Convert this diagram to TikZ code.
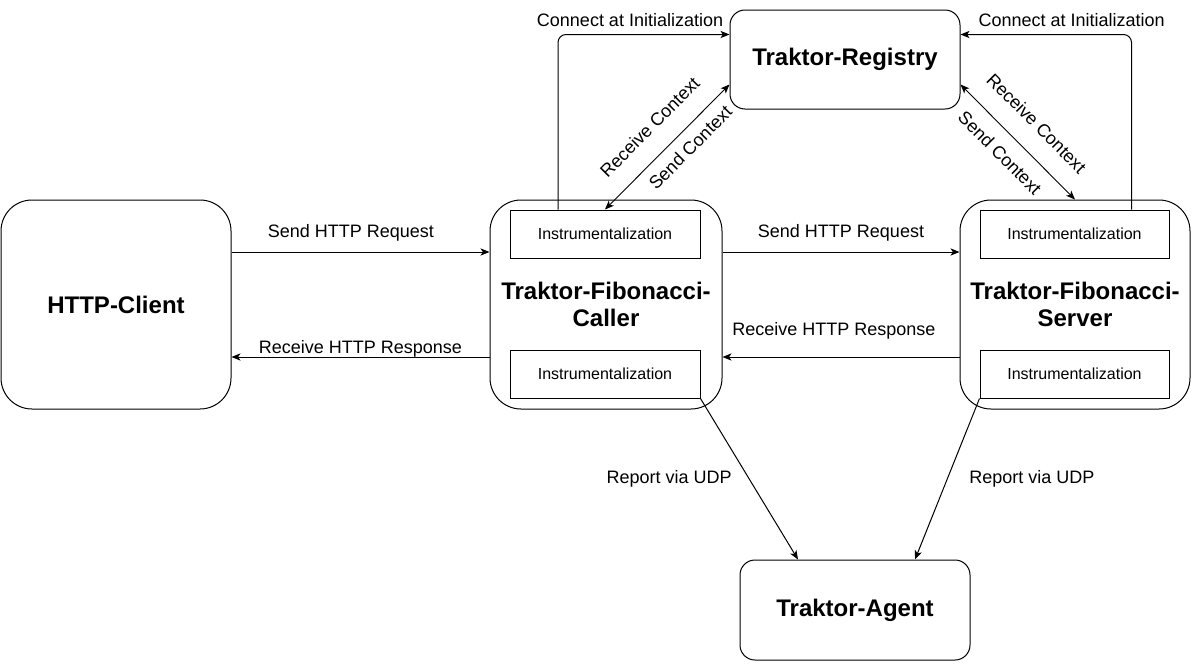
\documentclass[tikz,border=0pt]{standalone}
\usepackage{fontspec}
\setmainfont{Liberation Sans}
\usetikzlibrary{arrows.meta}
\tikzset{
  box/.style={draw, line width=0.5pt, rounded corners=15.5pt, minimum width=115pt, minimum height=104.5pt, align=center, font=\fontsize{12}{13.5}\selectfont\bfseries, inner sep=0pt},
  smallbox/.style={draw, line width=0.5pt, rounded corners=7.5pt, minimum width=115pt, minimum height=50pt, font=\fontsize{12}{13.5}\selectfont\bfseries, inner sep=0pt},
  instr/.style={draw, line width=0.5pt, minimum width=95pt, minimum height=24pt, font=\fontsize{8}{10}\selectfont, inner sep=0pt},
  tip/.tip={Stealth[length=4.5pt,width=3.6pt,inset=1.2pt]},
  arr/.style={-tip, line width=0.5pt},
  dbl/.style={tip-tip, line width=0.45pt},
  lbl/.style={font=\fontsize{9}{11}\selectfont, inner sep=0pt},
}
\begin{document}
\begin{tikzpicture}[x=0.5pt,y=-0.5pt]
\useasboundingbox (0,0) rectangle (1191,670);
% main nodes
\node[box] (client) at (116,304.5) {HTTP-Client};
\node[box, minimum width=116pt] (caller) at (606,304.5) {Traktor-Fibonacci-\\Caller};
\node[box] (server) at (1075,304.5) {Traktor-Fibonacci-\\Server};
\node[smallbox, minimum height=49.5pt] (registry) at (845,59.5) {Traktor-Registry};
\node[smallbox] (agent) at (855,610) {Traktor-Agent};
% instrumentalization boxes
\node[instr] (ci1) at (605,234) {Instrumentalization};
\node[instr] (ci2) at (605,374) {Instrumentalization};
\node[instr, minimum width=94.5pt] (si1) at (1074.5,234) {Instrumentalization};
\node[instr, minimum width=94.5pt] (si2) at (1074.5,374) {Instrumentalization};
% HTTP arrows
\draw[arr] ([yshift=26.25pt]client.east) -- ([yshift=26.25pt]caller.west)
  node[lbl, pos=0.463, anchor=base, yshift=7.5pt] {Send HTTP Request};
\draw[arr] ([yshift=-26.25pt]caller.west) -- ([yshift=-26.25pt]client.east)
  node[lbl, midway, anchor=base, yshift=2pt] {Receive HTTP Response};
\draw[arr] ([yshift=26.25pt]caller.east) -- ([yshift=26.25pt]server.west)
  node[lbl, midway, anchor=base, yshift=7.5pt] {Send HTTP Request};
\draw[arr] ([yshift=-26.25pt]server.west) -- ([yshift=-26.25pt]caller.east)
  node[lbl, pos=0.53, anchor=base, yshift=11pt] {Receive HTTP Response};
% connect at initialization
\draw[arr, rounded corners=4pt] ([xshift=-23.5pt]ci1.north) |- ([yshift=12.5pt]registry.west)
  node[lbl, pos=0.71, anchor=base, yshift=4pt] {Connect at Initialization};
\draw[arr, rounded corners=4pt] ([xshift=28.5pt]si1.north) |- ([yshift=12.5pt]registry.east)
  node[lbl, pos=0.675, anchor=base, yshift=4pt] {Connect at Initialization};
% context exchange
\draw[dbl] (ci1.north) -- ([yshift=-12.5pt]registry.west)
  node[lbl, sloped, pos=0.51, above=9.75pt] {Receive Context}
  node[lbl, sloped, pos=0.59, below=4.75pt] {Send Context};
\draw[dbl] ([yshift=-12.5pt]registry.east) -- (server.north)
  node[lbl, sloped, pos=0.5, above=9.75pt] {Receive Context}
  node[lbl, sloped, pos=0.47, below=6.6pt] {Send Context};
% report via UDP
\draw[arr] (ci2.south east) -- ([xshift=-28.5pt]agent.north)
  node[lbl, midway, left=8.5pt] {Report via UDP};
\draw[arr] (si2.south west) -- ([xshift=30pt]agent.north)
  node[lbl, midway, right=10.75pt] {Report via UDP};
\end{tikzpicture}
\end{document}
